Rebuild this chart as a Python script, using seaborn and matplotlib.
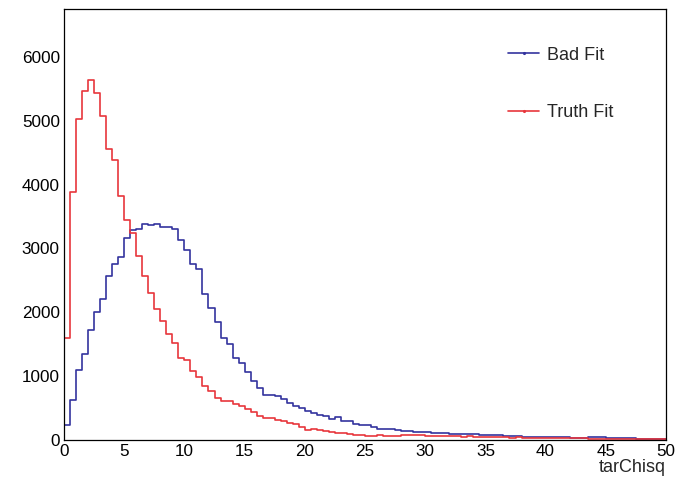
import numpy as np
import pandas as pd
import matplotlib
matplotlib.use("Agg")
import matplotlib.pyplot as plt
from matplotlib.lines import Line2D
from matplotlib.ticker import MultipleLocator
import seaborn as sns

# ---- data (bin contents, 100 bins of width 0.5 on [0, 50]) ----
n_bins = 100
x_range = (0, 50)
bad_fit = [
    230, 630, 1100, 1350, 1715, 2000, 2210, 2570, 2760, 2870,
    3165, 3290, 3310, 3390, 3375, 3390, 3330, 3340, 3300, 3140,
    2975, 2755, 2675, 2285, 2075, 1855, 1590, 1505, 1285, 1205,
    1060, 930, 815, 710, 705, 690, 640, 575, 540, 500,
    450, 430, 398, 370, 330, 360, 295, 290, 255, 240,
    228, 205, 175, 165, 165, 160, 135, 135, 130, 130,
    118, 115, 110, 108, 100, 95, 95, 92, 88, 85,
    85, 80, 72, 62, 62, 58, 52, 50, 48, 45,
    45, 42, 40, 42, 38, 36, 34, 42, 45, 40,
    30, 28, 28, 26, 25, 22, 22, 20, 20, 18,
]
truth_fit = [
    1600, 3890, 5030, 5460, 5635, 5430, 5070, 4560, 4380, 3820,
    3450, 3240, 2875, 2562, 2300, 2050, 1857, 1664, 1518, 1283,
    1257, 1084, 979, 838, 760, 653, 614, 603, 567, 536,
    489, 431, 379, 343, 338, 320, 300, 265, 250, 210,
    160, 165, 157, 142, 125, 110, 110, 100, 85, 85,
    70, 62, 75, 60, 60, 68, 80, 75, 78, 72,
    60, 62, 58, 60, 55, 58, 52, 55, 45, 48,
    42, 45, 40, 42, 38, 40, 36, 35, 33, 32,
    30, 28, 30, 26, 25, 24, 25, 22, 20, 22,
    20, 18, 18, 16, 17, 15, 14, 15, 13, 12,
]
series_names = ["Bad Fit", "Truth Fit"]
series_colors = ["#34349e", "#e8363c"]
x_label = "tarChisq"

bin_edges = np.linspace(x_range[0], x_range[1], n_bins + 1)
centers = (bin_edges[:-1] + bin_edges[1:]) / 2
df = pd.DataFrame({
    "x": np.concatenate([centers, centers]),
    "w": np.concatenate([bad_fit, truth_fit]).astype(float),
    "series": [series_names[0]] * n_bins + [series_names[1]] * n_bins,
})

sns.set_style("white")
plt.rcParams["font.family"] = ["Liberation Sans", "DejaVu Sans"]

fig = plt.figure(figsize=(6.77, 4.80), dpi=100)
ax = fig.add_axes([64 / 677, 1 - 440 / 480, 602 / 677, 431 / 480])

for name, color in zip(series_names, series_colors):
    sub = df[df["series"] == name]
    sns.histplot(data=sub, x="x", weights="w", bins=n_bins, binrange=x_range,
                 element="step", fill=False, color=color, linewidth=1.2, ax=ax)

ax.set_xlim(*x_range)
ax.set_ylim(0, 6750)
ax.set_ylabel("")
ax.set_xlabel(x_label, fontsize=13, loc="right", labelpad=0)

ax.xaxis.set_major_locator(MultipleLocator(5))
ax.xaxis.set_minor_locator(MultipleLocator(1))
ax.yaxis.set_major_locator(MultipleLocator(1000))
ax.yaxis.set_minor_locator(MultipleLocator(200))
ax.tick_params(axis="both", which="both", direction="in", top=False, right=False,
               colors="black", labelsize=12.3)
ax.tick_params(axis="x", which="major", length=8.6, width=0.8, pad=3)
ax.tick_params(axis="x", which="minor", length=4.3, width=0.8)
ax.tick_params(axis="y", which="major", length=12.7, width=0.8, pad=3)
ax.tick_params(axis="y", which="minor", length=6.5, width=0.8)
for s in ax.spines.values():
    s.set_visible(True)
    s.set_color("black")
    s.set_linewidth(0.9)

handles = [Line2D([0], [0], color=c, lw=1.2, marker=".", markersize=2.5)
           for c in series_colors]
ax.legend(handles, series_names, loc="upper left", bbox_to_anchor=(0.711, 0.95),
          frameon=False, fontsize=13, handlelength=1.72, handletextpad=0.4,
          labelspacing=2.25)

fig.savefig("out.png", dpi=100)
